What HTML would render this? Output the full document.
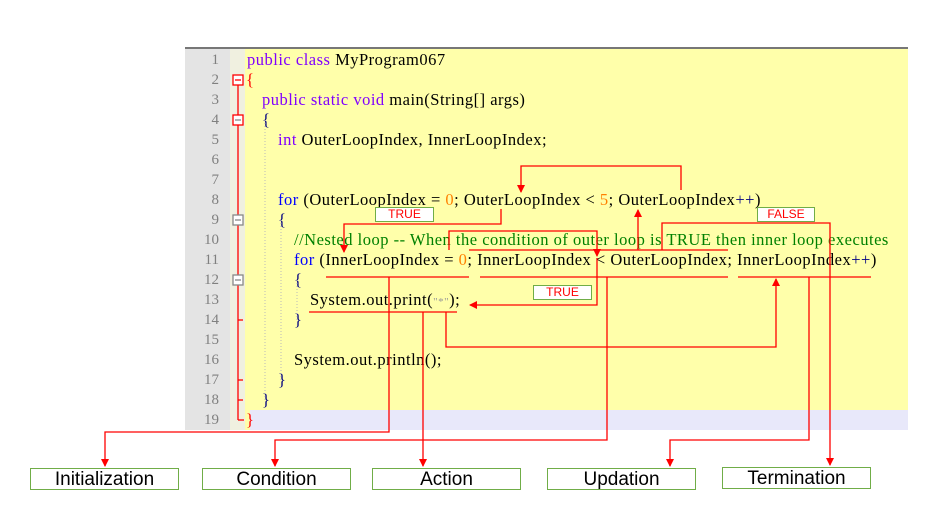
<!DOCTYPE html>
<html><head><meta charset="utf-8"><style>
body{margin:0;width:949px;height:528px;background:#fff;position:relative;overflow:hidden;font-family:"Liberation Serif",serif}
.ln{position:absolute;left:185px;width:34px;text-align:right;font-size:15px;color:#808080;height:20px;line-height:20px}
.c{position:absolute;font-size:16.5px;letter-spacing:0.5px;height:20px;line-height:20px;white-space:pre;color:#000}
.k{color:#8000ff}.b{color:#0000ff}.n{color:#ff8000}.g{color:#008000}.br{color:#000080}.r{color:#ff0000}
.box{position:absolute;border:1px solid #70ad47;font-family:"Liberation Sans",sans-serif;font-size:19px;text-align:center;line-height:22px;height:20px;background:#fff}
.lb{position:absolute;border:1px solid #70ad47;background:#fff;color:#ff0000;font-family:"Liberation Sans",sans-serif;font-size:12px;text-align:center;line-height:13px;height:13px}
</style></head><body>
<div style="position:absolute;left:185px;top:47px;width:723px;height:383px;background:#ffffaa"></div>
<div style="position:absolute;left:185px;top:47px;width:723px;height:2px;background:#777"></div>
<div style="position:absolute;left:185px;top:49px;width:45px;height:381px;background:#e4e4e4"></div>
<div style="position:absolute;left:230px;top:49px;width:15px;height:381px;background:#f0f0e0"></div>
<div style="position:absolute;left:250px;top:410px;width:658px;height:20px;background:#e8e8fa"></div>
<div class="ln" style="top:50px">1</div><div class="ln" style="top:70px">2</div><div class="ln" style="top:90px">3</div><div class="ln" style="top:110px">4</div><div class="ln" style="top:130px">5</div><div class="ln" style="top:150px">6</div><div class="ln" style="top:170px">7</div><div class="ln" style="top:190px">8</div><div class="ln" style="top:210px">9</div><div class="ln" style="top:230px">10</div><div class="ln" style="top:250px">11</div><div class="ln" style="top:270px">12</div><div class="ln" style="top:290px">13</div><div class="ln" style="top:310px">14</div><div class="ln" style="top:330px">15</div><div class="ln" style="top:350px">16</div><div class="ln" style="top:370px">17</div><div class="ln" style="top:390px">18</div><div class="ln" style="top:410px">19</div>
<div class="c" style="left:247px;top:50px"><span class="k">public class</span> MyProgram067</div>
<div class="c r" style="left:246px;top:70px">{</div>
<div class="c" style="left:262px;top:90px"><span class="k">public static void</span> main(String[] args)</div>
<div class="c br" style="left:262px;top:110px">{</div>
<div class="c" style="left:278px;top:130px"><span class="k">int</span> OuterLoopIndex, InnerLoopIndex;</div>
<div class="c" style="left:278px;top:190px"><span class="b">for</span> (OuterLoopIndex = <span class="n">0</span>; OuterLoopIndex &lt; <span class="n">5</span>; OuterLoopIndex<span class="br">++</span>)</div>
<div class="c br" style="left:278px;top:210px">{</div>
<div class="c g" style="left:294px;top:230px">//Nested loop -- When the condition of outer loop is TRUE then inner loop executes</div>
<div class="c" style="left:294px;top:250px"><span class="b">for</span> (InnerLoopIndex = <span class="n">0</span>; InnerLoopIndex &lt; OuterLoopIndex; InnerLoopIndex<span class="br">++</span>)</div>
<div class="c br" style="left:294px;top:270px">{</div>
<div class="c" style="left:310px;top:290px">System.out.print(<span style="color:#999;font-size:11px">"*"</span>);</div>
<div class="c br" style="left:294px;top:310px">}</div>
<div class="c" style="left:294px;top:350px">System.out.println();</div>
<div class="c br" style="left:278px;top:370px">}</div>
<div class="c br" style="left:262px;top:390px">}</div>
<div class="c r" style="left:246px;top:410px">}</div>
<svg width="949" height="528" style="position:absolute;left:0;top:0">
<defs><marker id="a" markerWidth="8" markerHeight="8" refX="7" refY="4" orient="auto" markerUnits="userSpaceOnUse"><path d="M0,0L8,4L0,8z" fill="#f00"/></marker></defs>
<g stroke="#f00" fill="none" stroke-width="1.3">
<line x1="238" y1="84" x2="238" y2="420"/><line x1="238" y1="420" x2="244" y2="420"/>
<line x1="238" y1="320" x2="243" y2="320"/><line x1="238" y1="380" x2="243" y2="380"/><line x1="238" y1="400" x2="243" y2="400"/>
<rect x="233" y="75" width="10" height="10" fill="#fff"/><rect x="233" y="115" width="10" height="10" fill="#fff"/>
<rect x="233" y="215" width="10" height="10" fill="#fff" stroke="#888"/><rect x="233" y="275" width="10" height="10" fill="#fff" stroke="#888"/>
<line x1="235" y1="80" x2="241" y2="80"/><line x1="235" y1="120" x2="241" y2="120" stroke="#888"/>
<line x1="235" y1="220" x2="241" y2="220" stroke="#888"/><line x1="235" y1="280" x2="241" y2="280" stroke="#888"/>
<path d="M681,190V166H521V192" marker-end="url(#a)"/>
<path d="M501,209V224H344V252" marker-end="url(#a)"/>
<path d="M449,250V231H597V256" marker-end="url(#a)"/>
<path d="M469,250H728"/>
<path d="M638,250V210" marker-end="url(#a)"/>
<path d="M662,250V223H830V465" marker-end="url(#a)"/>
<path d="M597,258V305H470" marker-end="url(#a)"/>
<path d="M326,277H469M480,277H728M738,277H871M309,312H457"/>
<path d="M389,277V432H105V466" marker-end="url(#a)"/>
<path d="M423,312V466" marker-end="url(#a)"/>
<path d="M446,312V347H776V279" marker-end="url(#a)"/>
<path d="M607,277V440H275V466" marker-end="url(#a)"/>
<path d="M809,277V440H670V466" marker-end="url(#a)"/>
</g>
<g stroke="#bbb" stroke-dasharray="1,2"><line x1="265" y1="120" x2="265" y2="400"/><line x1="281" y1="220" x2="281" y2="380"/><line x1="297" y1="280" x2="297" y2="320"/></g>
</svg>
<div class="lb" style="left:375px;top:207px;width:57px">TRUE</div>
<div class="lb" style="left:533px;top:285px;width:57px">TRUE</div>
<div class="lb" style="left:757px;top:207px;width:56px">FALSE</div>
<div class="box" style="left:30px;top:468px;width:147px">Initialization</div>
<div class="box" style="left:202px;top:468px;width:147px">Condition</div>
<div class="box" style="left:372px;top:468px;width:147px">Action</div>
<div class="box" style="left:547px;top:468px;width:147px">Updation</div>
<div class="box" style="left:722px;top:467px;width:147px">Termination</div>
</body></html>
